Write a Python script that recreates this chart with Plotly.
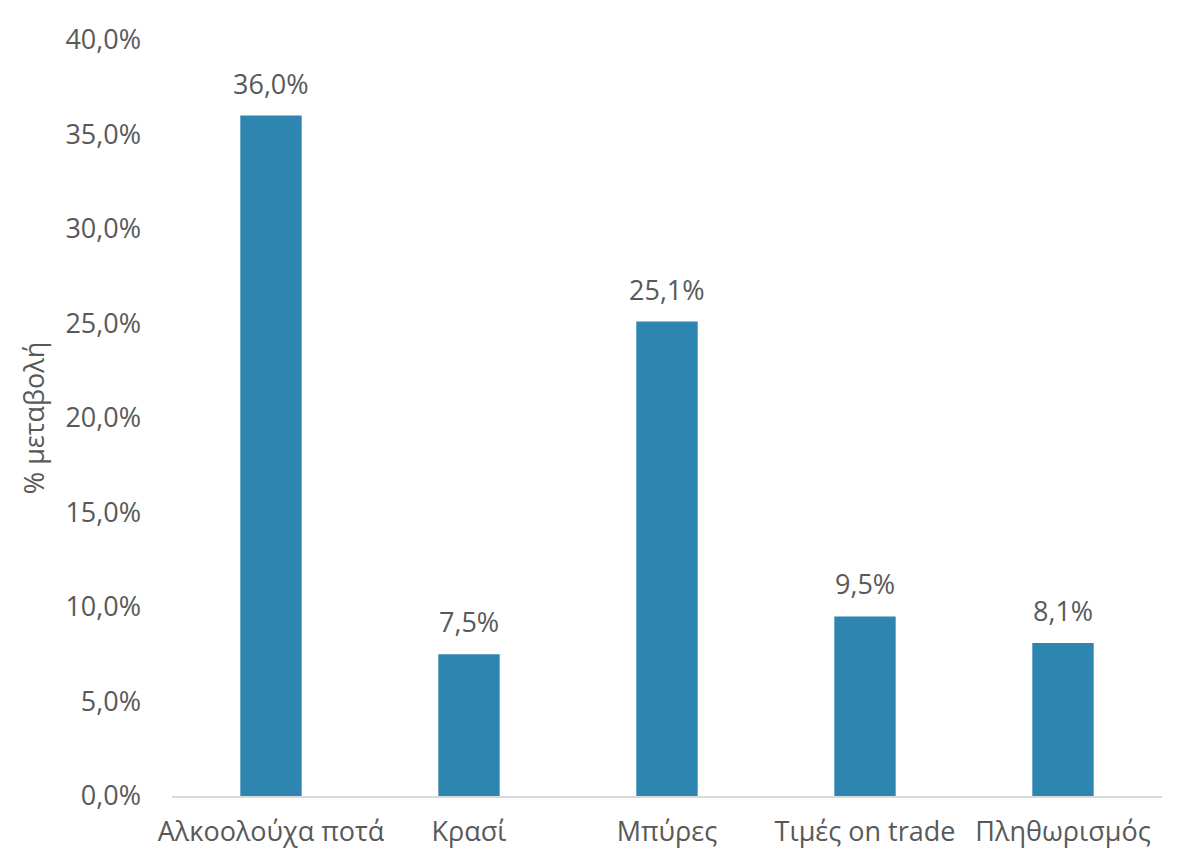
import plotly.graph_objects as go

categories = ["Αλκοολούχα ποτά", "Κρασί", "Μπύρες", "Τιμές on trade", "Πληθωρισμός"]
values = [36.0, 7.5, 25.1, 9.5, 8.1]
y_ticks = [0, 5, 10, 15, 20, 25, 30, 35, 40]
y_tick_labels = ["0,0%", "5,0%", "10,0%", "15,0%", "20,0%", "25,0%", "30,0%", "35,0%", "40,0%"]

FONT = "Open Sans"
GREY = "#595959"
FS = 27

fig = go.Figure(
    go.Bar(
        x=categories,
        y=values,
        marker=dict(color="#2E86B0", line=dict(width=0)),
        width=0.31,
        hoverinfo="x+y",
    )
)

for c, v in zip(categories, values):
    fig.add_annotation(
        x=c, y=v, xref="x", yref="y",
        text=f"{v:.1f}%".replace(".", ","),
        showarrow=False,
        yanchor="bottom",
        yshift=12,
        font=dict(family=FONT, size=FS, color=GREY),
    )

fig.update_layout(
    width=1178,
    height=858,
    margin=dict(l=164, r=24, t=27, b=70),
    paper_bgcolor="white",
    plot_bgcolor="white",
    separators=",.",
    showlegend=False,
    font=dict(family=FONT, size=FS, color=GREY),
    xaxis=dict(
        showline=True,
        linecolor="#D9D9D9",
        linewidth=1.5,
        ticks="",
        ticklabelstandoff=11,
        tickfont=dict(family=FONT, size=FS, color=GREY),
        showgrid=False,
    ),
    yaxis=dict(
        range=[0, 40],
        tickvals=y_ticks,
        ticktext=y_tick_labels,
        showgrid=False,
        zeroline=False,
        showline=False,
        ticks="",
        ticklabelstandoff=30,
        tickfont=dict(family=FONT, size=FS, color=GREY),
        title=dict(text="% μεταβολή", font=dict(family=FONT, size=FS, color=GREY), standoff=12),
    ),
)

fig.write_html("out.html")
